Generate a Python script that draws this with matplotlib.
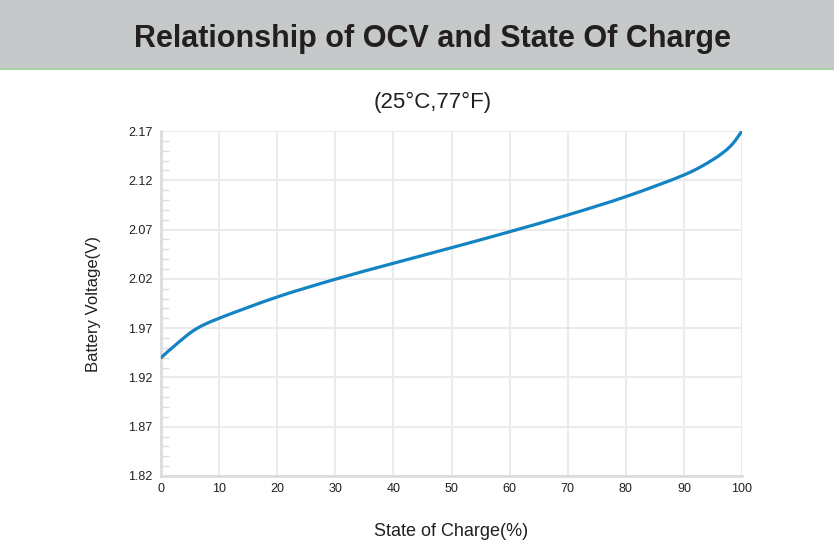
import numpy as np
import matplotlib
matplotlib.use('Agg')
import matplotlib.pyplot as plt
from matplotlib.patches import Rectangle, PathPatch
from matplotlib.path import Path
from matplotlib.ticker import MultipleLocator

# -------------------------------------------------------
# Data
soc = [0, 3, 6, 10, 20, 30, 40, 50, 60, 70, 80, 90, 95, 98, 100]
voltage = [1.940, 1.9555, 1.969, 1.980, 2.0016, 2.0196, 2.0358, 2.0516,
           2.0678, 2.0848, 2.1034, 2.1254, 2.141, 2.1545, 2.170]

x_ticks = [0, 10, 20, 30, 40, 50, 60, 70, 80, 90, 100]
y_ticks = [1.82, 1.87, 1.92, 1.97, 2.02, 2.07, 2.12, 2.17]

title = 'Relationship of OCV and State Of Charge'
subtitle = '(25°C,77°F)'

# -------------------------------------------------------
plt.rcParams['font.family'] = ['Liberation Sans', 'DejaVu Sans']

fig = plt.figure(figsize=(8.34, 5.56), dpi=100)

# Gray header band with a thin green line under it
fig.patches.append(Rectangle((0, 1 - 68 / 556), 1, 68 / 556, transform=fig.transFigure,
                             facecolor='#c6c9ca', edgecolor='none', zorder=0))
fig.patches.append(Rectangle((0, 1 - 70 / 556), 1, 2 / 556, transform=fig.transFigure,
                             facecolor='#a9d3a2', edgecolor='none', zorder=0))

fig.text(0.519, 1 - 39 / 556, title, ha='center', va='center', fontsize=22,
         fontweight='bold', color='#231f20')
fig.text(0.519, 1 - 102 / 556, subtitle, ha='center', va='center', fontsize=16, color='#231f20')

ax = fig.add_axes([161 / 834, 1 - 476 / 556, (742 - 161) / 834, (476 - 131) / 556])

# Smooth line through the points: Catmull-Rom segments drawn as cubic Bezier curves
pts = np.column_stack([soc, voltage])
verts = [pts[0]]
codes = [Path.MOVETO]
for i in range(len(pts) - 1):
    p0 = pts[max(i - 1, 0)]
    p1 = pts[i]
    p2 = pts[i + 1]
    p3 = pts[min(i + 2, len(pts) - 1)]
    c1 = p1 + (p2 - p0) / 6
    c2 = p2 - (p3 - p1) / 6
    verts += [c1, c2, p2]
    codes += [Path.CURVE4] * 3
curve = PathPatch(Path(verts, codes), facecolor='none', edgecolor='#1383c3',
                  linewidth=2.3, capstyle='round', zorder=3)
ax.add_patch(curve)

ax.set_xlim(0, 100)
ax.set_ylim(1.82, 2.17)
ax.set_xticks(x_ticks)
ax.set_yticks(y_ticks)
ax.set_yticklabels([f'{v:.2f}' for v in y_ticks])
ax.yaxis.set_minor_locator(MultipleLocator(0.01))

ax.grid(True, which='major', color='#ebebeb', linewidth=1.5)
ax.set_axisbelow(True)
for side in ['top', 'right']:
    ax.spines[side].set_visible(False)
for side in ['left', 'bottom']:
    ax.spines[side].set_color('#dcdcdc')
    ax.spines[side].set_linewidth(2)

ax.tick_params(axis='both', which='major', length=0, labelsize=9, colors='#231f20', pad=6)
ax.tick_params(axis='y', which='minor', direction='in', length=6, width=1, color='#dcdcdc')
ax.tick_params(axis='x', pad=5)

ax.set_ylabel('Battery Voltage(V)', fontsize=12, color='#231f20', labelpad=20)
ax.set_xlabel('State of Charge(%)', fontsize=13, color='#231f20', labelpad=20)

fig.savefig('out.png', dpi=100)
